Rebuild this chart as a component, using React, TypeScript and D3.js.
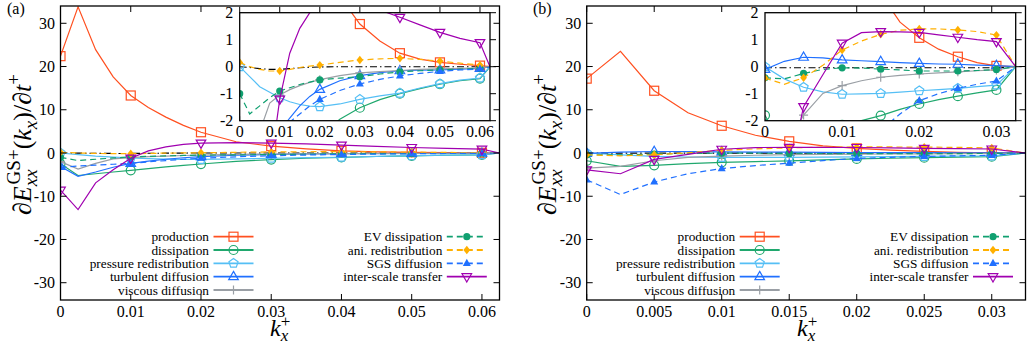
import React from 'react';
import * as d3 from 'd3';

// ---------------- data ----------------
const kxA = [0, 0.0025, 0.005, 0.0075, 0.01, 0.0125, 0.015, 0.0175, 0.02, 0.025, 0.03, 0.035, 0.04, 0.045, 0.05, 0.055, 0.06, 0.0625];
const productionA = [22.4, 33.8, 23.9, 17.6, 13.3, 10.5, 8.3, 6.4, 4.8, 2.6, 1.58, 0.95, 0.5, 0.28, 0.16, 0.09, 0.04, 0];
const dissipationA = [-2.5, -5.2, -4.8, -4.4, -4.0, -3.6, -3.2, -2.85, -2.55, -1.95, -1.52, -1.22, -1.0, -0.81, -0.65, -0.52, -0.44, 0];
const pressureA = [0.0, -0.37, -0.74, -0.95, -1.15, -1.3, -1.4, -1.46, -1.48, -1.38, -1.21, -1.08, -0.98, -0.79, -0.63, -0.5, -0.42, 0];
const turbulentA = [-3.1, -5.4, -4.4, -3.3, -2.4, -1.9, -1.45, -1.1, -0.84, -0.52, -0.33, -0.22, -0.15, -0.13, -0.12, -0.09, -0.06, 0];
const viscousA = [-2.0, -3.7, -2.4, -1.35, -1.05, -0.85, -0.7, -0.58, -0.48, -0.33, -0.23, -0.18, -0.14, -0.1, -0.08, -0.06, -0.04, 0];
const evDissA = [-1.0, -1.75, -1.45, -1.15, -0.9, -0.78, -0.66, -0.57, -0.49, -0.42, -0.37, -0.27, -0.19, -0.15, -0.12, -0.09, -0.06, 0];
const aniA = [0.16, 0.0, -0.1, -0.16, -0.16, -0.1, -0.03, 0.02, 0.06, 0.16, 0.25, 0.29, 0.31, 0.27, 0.21, 0.13, 0.06, 0];
const sgsA = [-3.3, -3.0, -2.8, -2.6, -2.4, -2.05, -1.75, -1.45, -1.21, -0.88, -0.64, -0.47, -0.34, -0.25, -0.17, -0.12, -0.085, 0];
const interA = [-8.6, -13.1, -6.9, -3.9, -1.2, 0.5, 1.42, 2.0, 2.3, 2.42, 2.3, 2.1, 1.83, 1.55, 1.27, 1.05, 0.89, 0];
const residualA = [0, -0.03, -0.07, -0.1, -0.1, -0.07, -0.04, -0.02, -0.01, 0, 0, 0, 0, 0, 0, 0, 0, 0];

const kxB = [0, 0.0025, 0.005, 0.0075, 0.01, 0.0125, 0.015, 0.0175, 0.02, 0.0225, 0.025, 0.0275, 0.03, 0.0325];
const productionB = [17.2, 23.5, 14.4, 9.3, 6.3, 4.1, 2.7, 1.65, 1.07, 0.65, 0.37, 0.15, 0.03, 0];
const dissipationB = [-1.8, -3.1, -2.85, -2.45, -2.15, -2.0, -1.81, -1.58, -1.38, -1.22, -1.09, -0.97, -0.86, 0];
const pressureB = [0.0, -0.45, -0.76, -0.93, -1.02, -1.01, -0.99, -0.94, -0.89, -0.85, -0.8, -0.74, -0.68, 0];
const turbulentB = [-0.1, 0.2, 0.35, 0.33, 0.25, 0.22, 0.19, 0.15, 0.12, 0.1, 0.09, 0.06, 0.04, 0];
const viscousB = [-3.5, -3.1, -1.79, -0.99, -0.7, -0.52, -0.39, -0.32, -0.27, -0.23, -0.19, -0.15, -0.12, 0];
const evDissB = [-0.41, -0.45, -0.25, -0.1, -0.04, -0.05, -0.09, -0.12, -0.16, -0.16, -0.16, -0.14, -0.1, 0];
const aniB = [-0.42, -0.65, -0.41, 0.05, 0.62, 0.95, 1.2, 1.35, 1.4, 1.4, 1.36, 1.3, 1.17, 0];
const sgsB = [-6.2, -9.6, -6.7, -4.8, -3.6, -2.9, -2.35, -1.75, -1.26, -1.0, -0.8, -0.65, -0.53, 0];
const interB = [-3.9, -4.8, -1.48, -0.3, 0.87, 1.26, 1.3, 1.29, 1.27, 1.18, 1.09, 1.0, 0.93, 0];
const residualB = [-0.04, -0.04, -0.04, -0.04, -0.04, -0.04, -0.04, -0.04, -0.04, -0.04, -0.04, -0.04, -0.04, 0];

const markerKxA = [0, 0.01, 0.02, 0.03, 0.04, 0.05, 0.06];
const markerKxB = [0, 0.005, 0.01, 0.015, 0.02, 0.025, 0.03];
const mainXTicksA = [0, 0.01, 0.02, 0.03, 0.04, 0.05, 0.06];
const mainXTicksB = [0, 0.005, 0.01, 0.015, 0.02, 0.025, 0.03];
const insetXTicksA = [0, 0.01, 0.02, 0.03, 0.04, 0.05, 0.06];
const insetXTicksB = [0, 0.01, 0.02, 0.03];
const mainYTicks = [-30, -20, -10, 0, 10, 20, 30];
const insetYTicks = [-2, -1, 0, 1, 2];
const seriesLabels = ['production', 'dissipation', 'pressure redistribution', 'turbulent diffusion', 'viscous diffusion', 'EV dissipation', 'ani. redistribution', 'SGS diffusion', 'inter-scale transfer'];

// ---------------- styles ----------------
const STYLES = [
  { color: '#ff5020', dash: null, marker: 'square' },
  { color: '#20a86e', dash: null, marker: 'circle' },
  { color: '#55bff5', dash: null, marker: 'pentagon' },
  { color: '#2070ff', dash: null, marker: 'triUp' },
  { color: '#9a9fa5', dash: null, marker: 'plus' },
  { color: '#10a070', dash: '6,4', marker: 'dot' },
  { color: '#ffb000', dash: '6,4', marker: 'diamond' },
  { color: '#2070ff', dash: '6,4', marker: 'triFilled' },
  { color: '#a000b0', dash: null, marker: 'triDown' },
];

const FONT = 'Liberation Serif, DejaVu Serif, serif';

const PANELS = [
  {
    id: 'a', tag: '(a)', tagX: 7, left: 60.5, right: 499.5, xmax: 0.0625,
    ileft: 239.7, iright: 490, kx: kxA, markerKx: markerKxA,
    mainXTicks: mainXTicksA, insetXTicks: insetXTicksA, insetTopTicks: true,
    series: [productionA, dissipationA, pressureA, turbulentA, viscousA, evDissA, aniA, sgsA, interA],
    residual: residualA, ylabX: 31, xlabX: 270,
  },
  {
    id: 'b', tag: '(b)', tagX: 533, left: 586.7, right: 1025.5, xmax: 0.0325,
    ileft: 765, iright: 1015.7, kx: kxB, markerKx: markerKxB,
    mainXTicks: mainXTicksB, insetXTicks: insetXTicksB, insetTopTicks: false,
    series: [productionB, dissipationB, pressureB, turbulentB, viscousB, evDissB, aniB, sgsB, interB],
    residual: residualB, ylabX: 556, xlabX: 797,
  },
];

const TOP = 6, BOTTOM = 300, ITOP = 12.7, IBOTTOM = 120.7;

function Marker({ type, x, y, color }: { type: string; x: number; y: number; color: string }) {
  const sw = 1.2;
  switch (type) {
    case 'square':
      return <rect x={x - 4.5} y={y - 4.5} width={9} height={9} fill="none" stroke={color} strokeWidth={sw} />;
    case 'circle':
      return <circle cx={x} cy={y} r={4.5} fill="none" stroke={color} strokeWidth={sw} />;
    case 'pentagon': {
      const pts = d3.range(5).map((k) => {
        const a = -Math.PI / 2 + (k * 2 * Math.PI) / 5;
        return `${x + 4.8 * Math.cos(a)},${y + 4.8 * Math.sin(a)}`;
      });
      return <polygon points={pts.join(' ')} fill="none" stroke={color} strokeWidth={sw} />;
    }
    case 'triUp':
      return <path d={`M${x},${y - 5.3}L${x + 4.8},${y + 3}L${x - 4.8},${y + 3}Z`} fill="none" stroke={color} strokeWidth={sw} />;
    case 'triDown':
      return <path d={`M${x},${y + 5.3}L${x + 4.8},${y - 3}L${x - 4.8},${y - 3}Z`} fill="none" stroke={color} strokeWidth={sw} />;
    case 'plus':
      return <path d={`M${x - 4.5},${y}H${x + 4.5}M${x},${y - 4.5}V${y + 4.5}`} stroke={color} strokeWidth={sw} />;
    case 'dot':
      return <circle cx={x} cy={y} r={3.6} fill={color} />;
    case 'diamond':
      return <path d={`M${x},${y - 4.2}L${x + 3.4},${y}L${x},${y + 4.2}L${x - 3.4},${y}Z`} fill={color} />;
    case 'triFilled':
      return <path d={`M${x},${y - 4.6}L${x + 4},${y + 2.6}L${x - 4},${y + 2.6}Z`} fill={color} />;
    default:
      return null;
  }
}

function Curves({ P, xs, ys, clip }: any) {
  const kx: number[] = P.kx;
  return (
    <g clipPath={`url(#${clip})`}>
      <path
        d={d3.line<number>().x((_, i) => xs(kx[i])).y((v) => ys(v))(P.residual) || ''}
        fill="none" stroke="#000" strokeWidth={1.1} strokeDasharray="7,3,1.5,3"
      />
      {P.series.map((vals: number[], si: number) => {
        const st = STYLES[si];
        const line = d3.line<number>().x((_, i) => xs(kx[i])).y((v) => ys(v));
        return (
          <g key={si}>
            <path d={line(vals) || ''} fill="none" stroke={st.color} strokeWidth={1.2}
              strokeDasharray={st.dash || undefined} />
            {kx.map((k, i) =>
              P.markerKx.some((m: number) => Math.abs(m - k) < 1e-9) ? (
                <Marker key={i} type={st.marker} x={xs(k)} y={ys(vals[i])} color={st.color} />
              ) : null
            )}
          </g>
        );
      })}
    </g>
  );
}

function Panel({ P }: { P: any }) {
  const x = d3.scaleLinear().domain([0, P.xmax]).range([P.left, P.right]);
  const y = d3.scaleLinear().domain([-34, 34]).range([BOTTOM, TOP]);
  const xi = d3.scaleLinear().domain([0, P.xmax]).range([P.ileft, P.iright]);
  const yi = d3.scaleLinear().domain([-2, 2]).range([IBOTTOM, ITOP]);
  const tl = 6;
  const legendRows = [236.7, 250, 263.3, 276.7, 290];

  return (
    <g>
      <defs>
        <clipPath id={`main-${P.id}`}>
          <rect x={P.left} y={TOP} width={P.right - P.left} height={BOTTOM - TOP} />
        </clipPath>
        <clipPath id={`inset-${P.id}`}>
          <rect x={P.ileft} y={ITOP} width={P.iright - P.ileft} height={IBOTTOM - ITOP} />
        </clipPath>
      </defs>

      {/* main curves */}
      <Curves P={P} xs={x} ys={y} clip={`main-${P.id}`} />

      {/* main ticks */}
      {P.mainXTicks.map((t: number) => (
        <g key={'x' + t}>
          <line x1={x(t)} x2={x(t)} y1={BOTTOM} y2={BOTTOM - tl} stroke="#000" strokeWidth={1} />
          {!(P.insetTopTicks && x(t) > P.ileft && x(t) < P.iright) && (
            <line x1={x(t)} x2={x(t)} y1={TOP} y2={TOP + tl} stroke="#000" strokeWidth={1} />
          )}
          <text x={x(t)} y={BOTTOM + 16.7} fontSize={16} textAnchor="middle">{String(t)}</text>
        </g>
      ))}
      {mainYTicks.map((t) => (
        <g key={'y' + t}>
          <line x1={P.left} x2={P.left + tl} y1={y(t)} y2={y(t)} stroke="#000" strokeWidth={1} />
          <line x1={P.right} x2={P.right - tl} y1={y(t)} y2={y(t)} stroke="#000" strokeWidth={1} />
          <text x={P.left - 5.5} y={y(t) + 5.5} fontSize={16} textAnchor="end">{String(t)}</text>
        </g>
      ))}

      {/* legend */}
      {seriesLabels.map((lab, i) => {
        const col = i < 5 ? 0 : 1;
        const row = i < 5 ? i : i - 5;
        const tx = P.left + (col === 0 ? 148.5 : 381.8);
        const cy = legendRows[row];
        const st = STYLES[i];
        return (
          <g key={lab}>
            <text x={tx} y={cy + 4.5} fontSize={13.3} textAnchor="end">{lab}</text>
            <line x1={tx + 4.5} x2={tx + 44.5} y1={cy} y2={cy} stroke={st.color} strokeWidth={1.8}
              strokeDasharray={st.dash || undefined} />
            <Marker type={st.marker} x={tx + 24.5} y={cy} color={st.color} />
          </g>
        );
      })}

      {/* main frame */}
      <rect x={P.left} y={TOP} width={P.right - P.left} height={BOTTOM - TOP} fill="none" stroke="#000" strokeWidth={1.3} />

      {/* inset */}
      <rect x={P.ileft} y={ITOP} width={P.iright - P.ileft} height={IBOTTOM - ITOP} fill="#fff" />
      <Curves P={P} xs={xi} ys={yi} clip={`inset-${P.id}`} />
      {P.insetXTicks.map((t: number) => (
        <g key={'ix' + t}>
          {P.insetTopTicks && (
            <line x1={xi(t)} x2={xi(t)} y1={ITOP} y2={ITOP - 6} stroke="#000" strokeWidth={1} />
          )}
          <text x={xi(t)} y={IBOTTOM + 16} fontSize={16} textAnchor="middle">{String(t)}</text>
        </g>
      ))}
      {insetYTicks.map((t) => (
        <g key={'iy' + t}>
          <line x1={P.iright} x2={P.iright + 6} y1={yi(t)} y2={yi(t)} stroke="#000" strokeWidth={1} />
          <text x={P.ileft - 6.4} y={yi(t) + 5.5} fontSize={16} textAnchor="end">{String(t)}</text>
        </g>
      ))}
      <rect x={P.ileft} y={ITOP} width={P.iright - P.ileft} height={IBOTTOM - ITOP} fill="none" stroke="#000" strokeWidth={1.3} />

      {/* panel tag */}
      <text x={P.tagX} y={14} fontSize={16}>{P.tag}</text>

      {/* y label */}
      <text transform={`translate(${P.ylabX},215) rotate(-90)`} fontSize={26}>
        <tspan>∂</tspan>
        <tspan fontStyle="italic">E</tspan>
        <tspan fontStyle="italic" fontSize={19} dy={6}>xx</tspan>
        <tspan fontSize={19} dx={-15} dy={-17}>GS+</tspan>
        <tspan dy={11}>(</tspan>
        <tspan fontStyle="italic">k</tspan>
        <tspan fontStyle="italic" fontSize={19} dy={6}>x</tspan>
        <tspan dy={-6}>)/∂</tspan>
        <tspan fontStyle="italic">t</tspan>
        <tspan fontSize={19} dy={-11}>+</tspan>
      </text>

      {/* x label */}
      <text x={P.xlabX} y={336} fontSize={24}>
        <tspan fontStyle="italic">k</tspan>
        <tspan fontStyle="italic" fontSize={17} dy={5}>x</tspan>
        <tspan fontSize={17} dx={-7.5} dy={-14}>+</tspan>
      </text>
    </g>
  );
}

export default function App() {
  return (
    <svg width={1031} height={348} viewBox="0 0 1031 348"
      style={{ position: 'absolute', left: 0, top: 0, background: '#fff', fontFamily: FONT }}>
      <rect x={0} y={0} width={1031} height={348} fill="#fff" />
      {PANELS.map((P) => (
        <Panel key={P.id} P={P} />
      ))}
    </svg>
  );
}
